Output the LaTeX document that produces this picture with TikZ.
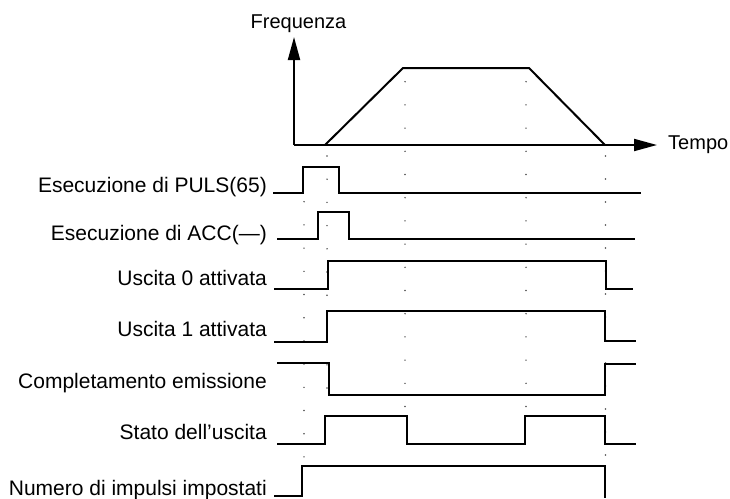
\documentclass[tikz,border=0pt]{standalone}
\usepackage{fontspec}
\setmainfont{Liberation Sans}
\usetikzlibrary{arrows.meta}
\begin{document}
\begin{tikzpicture}[x=1pt,y=-1pt,
  sig/.style={line width=1.8pt, line join=miter, line cap=butt},
  axis/.style={line width=2pt, -{Triangle[length=23pt,width=12pt]}},
  lbl/.style={anchor=base east, inner sep=0pt, font=\fontsize{21}{24}\selectfont},
  ttl/.style={inner sep=0pt, font=\fontsize{20}{24}\selectfont},
  dotmark/.style={fill=black!70, draw=none}]
\useasboundingbox (0,0) rectangle (730,498);
% titles
\node[ttl, anchor=base] (freq) at (298.5,28.3) {Frequenza};
\node[ttl, anchor=base west] (tempo) at (668,149) {Tempo};
% axes
\coordinate (o) at (294,145);
\coordinate (ytip) at (294,37);
\coordinate (xtip) at (657,145);
\draw[axis] (o) -- (ytip);
\draw[axis] (o) -- (xtip);
% frequency profile
\draw[sig, line width=2pt] (325,145) -- (403,68) -- (529,68) -- (605,145);
% dotted guides
\foreach \y in {0,...,11} \fill[dotmark] (304,201.7+23.2*\y) circle (0.8pt);
\foreach \y in {0,...,10} \fill[dotmark] (327,156+23.2*\y) circle (0.8pt);
\foreach \y in {0,...,14} \fill[dotmark] (405,81.7+23.2*\y) circle (0.8pt);
\foreach \y in {0,...,14} \fill[dotmark] (526,81.7+23.2*\y) circle (0.8pt);
\foreach \y in {0,...,13} \fill[dotmark] (605.5,156+23.0*\y) circle (0.8pt);
% labels
\node[lbl] (l1) at (267,192.5) {Esecuzione di PULS(65)};
\node[lbl] (l2) at (267,240) {Esecuzione di ACC(—)};
\node[lbl] (l3) at (267,285) {Uscita 0 attivata};
\node[lbl] (l4) at (267,336) {Uscita 1 attivata};
\node[lbl] (l5) at (267,388) {Completamento emissione};
\node[lbl] (l6) at (267,439) {Stato dell’uscita};
\node[lbl] (l7) at (267,495) {Numero di impulsi impostati};
% waveforms
\draw[sig] (273,193) -- (303,193) -- (303,167) -- (339,167) -- (339,193) -- (641,193);
\draw[sig] (277,239) -- (318,239) -- (318,212) -- (349,212) -- (349,239) -- (635,239);
\draw[sig] (274,289) -- (328,289) -- (328,261) -- (606,261) -- (606,289) -- (633,289);
\draw[sig] (274,342) -- (327,342) -- (327,311) -- (605,311) -- (605,341) -- (636,341);
\draw[sig] (277,363) -- (329,363) -- (329,395) -- (605,395) -- (605,364) -- (636,364);
\draw[sig] (277,444) -- (325,444) -- (325,416) -- (407,416) -- (407,444) -- (525,444) -- (525,416) -- (605,416) -- (605,444) -- (636,444);
\draw[sig] (274,496) -- (302,496) -- (302,466) -- (605,466) -- (605,498);
\end{tikzpicture}
\end{document}
